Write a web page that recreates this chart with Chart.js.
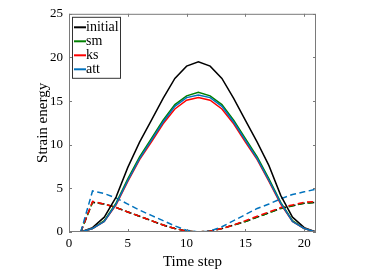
<!DOCTYPE html>
<html lang="en">
<head>
<meta charset="UTF-8">
<title>Strain energy</title>
<script src="https://cdn.jsdelivr.net/npm/chart.js"></script>
<style>
  html, body { margin: 0; padding: 0; background: #fff; }
  #wrap { width: 382px; height: 271px; }
</style>
</head>
<body>
<div id="wrap"><canvas id="chart" width="382" height="271"></canvas></div>
<script>
// time steps 1..21
const steps = [1,2,3,4,5,6,7,8,9,10,11,12,13,14,15,16,17,18,19,20,21];

// solid curves
const initial = [0,0.5,1.7,4.0,7.4,10.3,12.8,15.3,17.6,19.0,19.5,19.0,17.6,15.3,12.8,10.3,7.6,4.2,1.7,0.5,0];
const sm      = [0,0.4,1.3,3.3,6.1,8.6,10.7,12.8,14.6,15.6,16.0,15.6,14.6,12.8,10.7,8.6,6.1,3.4,1.3,0.4,0];
const ks      = [0,0.4,1.2,3.1,5.8,8.3,10.3,12.4,14.1,15.1,15.4,15.1,14.1,12.4,10.3,8.3,5.8,3.2,1.2,0.4,0];
const att     = [0,0.4,1.2,3.2,5.9,8.4,10.5,12.6,14.4,15.4,15.7,15.4,14.4,12.6,10.5,8.4,5.9,3.3,1.2,0.4,0];

// dashed curves
const initialD = [0,3.4,3.2,2.8,2.3,1.8,1.3,0.8,0.4,0.1,0,0.1,0.4,0.8,1.2,1.7,2.2,2.7,3.0,3.3,3.4];
const smD      = [0,3.4,3.2,2.8,2.3,1.8,1.3,0.8,0.4,0.1,0,0.1,0.4,0.8,1.2,1.7,2.2,2.7,3.0,3.3,3.4];
const ksD      = [0,3.5,3.2,2.8,2.3,1.8,1.3,0.8,0.4,0.1,0,0.1,0.4,0.8,1.3,1.8,2.3,2.8,3.1,3.4,3.5];
const attD     = [0,4.7,4.4,3.9,3.2,2.5,1.9,1.3,0.7,0.2,0,0.1,0.6,1.3,2.0,2.7,3.2,3.8,4.3,4.6,4.9];

const yTicks = [0,5,10,15,20,25];
const xTicks = [0,5,10,15,20];

const BLACK = '#000000', GREEN = '#008000', RED = '#ff0000', BLUE = '#0072bd';
const FONT = '"Liberation Serif", "Times New Roman", serif';

function pts(arr) { return arr.map((v, i) => ({ x: steps[i], y: v })); }

// lower "order" is drawn on top
function solid(label, arr, color, order) {
  return { label: label, data: pts(arr), borderColor: color, backgroundColor: color,
           borderWidth: 1.5, pointRadius: 0, tension: 0, fill: false, order: order };
}
function dashed(arr, color, order, offset) {
  return { label: '', data: pts(arr), borderColor: color, backgroundColor: color,
           borderWidth: 1.5, borderDash: [6, 3.5], borderDashOffset: offset || 0,
           pointRadius: 0, tension: 0, fill: false, order: order, legendHide: true };
}

// box, inward ticks on all sides, legend inside the plot
const frame = {
  id: 'frame',
  afterDatasetsDraw(chart) {
    const ctx = chart.ctx, a = chart.chartArea;
    const xs = chart.scales.x, ys = chart.scales.y;
    ctx.save();
    ctx.strokeStyle = '#7a7a7a';
    ctx.lineWidth = 1;
    ctx.strokeRect(a.left + 0.5, a.top + 0.5, a.right - a.left - 1, a.bottom - a.top - 1);
    const tl = 3;
    ctx.beginPath();
    xTicks.forEach(v => {
      const px = Math.round(xs.getPixelForValue(v)) + 0.5;
      ctx.moveTo(px, a.bottom); ctx.lineTo(px, a.bottom - tl);
      ctx.moveTo(px, a.top); ctx.lineTo(px, a.top + tl);
    });
    yTicks.forEach(v => {
      const py = Math.round(ys.getPixelForValue(v)) + 0.5;
      ctx.moveTo(a.left, py); ctx.lineTo(a.left + tl, py);
      ctx.moveTo(a.right, py); ctx.lineTo(a.right - tl, py);
    });
    ctx.stroke();

    // legend
    const items = chart.data.datasets.filter(d => !d.legendHide);
    const bx = a.left + 3, by = a.top + 3, bw = 48, bh = 61;
    ctx.fillStyle = '#fff';
    ctx.fillRect(bx, by, bw, bh);
    ctx.strokeStyle = '#333';
    ctx.strokeRect(bx + 0.5, by + 0.5, bw, bh);
    ctx.font = '14px ' + FONT;
    ctx.textBaseline = 'middle';
    items.forEach((d, i) => {
      const y = by + 10.5 + i * 14;
      ctx.strokeStyle = d.borderColor;
      ctx.lineWidth = 2;
      ctx.beginPath();
      ctx.moveTo(bx + 2, y); ctx.lineTo(bx + 14, y);
      ctx.stroke();
      ctx.fillStyle = '#000';
      ctx.fillText(d.label, bx + 14, y);
    });
    ctx.restore();
  }
};

new Chart(document.getElementById('chart'), {
  type: 'line',
  data: {
    datasets: [
      solid('initial', initial, BLACK, 3),
      solid('sm', sm, GREEN, 2),
      solid('ks', ks, RED, 1),
      solid('att', att, BLUE, 0),
      dashed(initialD, BLACK, 7, 0),
      dashed(smD, GREEN, 6, 1),
      dashed(ksD, RED, 5, 0),
      dashed(attD, BLUE, 4, 0)
    ]
  },
  options: {
    responsive: false,
    animation: false,
    layout: { padding: { left: 34, right: 66, top: 11, bottom: 0 } },
    plugins: { legend: { display: false }, tooltip: { enabled: false } },
    scales: {
      x: {
        type: 'linear', min: 0, max: 21,
        afterBuildTicks: s => { s.ticks = xTicks.map(v => ({ value: v })); },
        afterFit: s => { s.height = 39; },
        grid: { display: false, drawTicks: false },
        border: { display: false },
        ticks: { color: '#000', font: { family: FONT, size: 13 }, padding: 4, maxRotation: 0 },
        title: { display: true, text: 'Time step', color: '#000', font: { family: FONT, size: 15 }, padding: { top: 0, bottom: 0 } }
      },
      y: {
        min: 0, max: 25,
        afterBuildTicks: s => { s.ticks = yTicks.map(v => ({ value: v })); },
        afterFit: s => { s.width = 35; },
        grid: { display: false, drawTicks: false },
        border: { display: false },
        ticks: { color: '#000', font: { family: FONT, size: 13 }, padding: 6 },
        title: { display: true, text: 'Strain energy', color: '#000', font: { family: FONT, size: 15 }, padding: { top: 0, bottom: 0 } }
      }
    }
  },
  plugins: [frame]
});
</script>
</body>
</html>
